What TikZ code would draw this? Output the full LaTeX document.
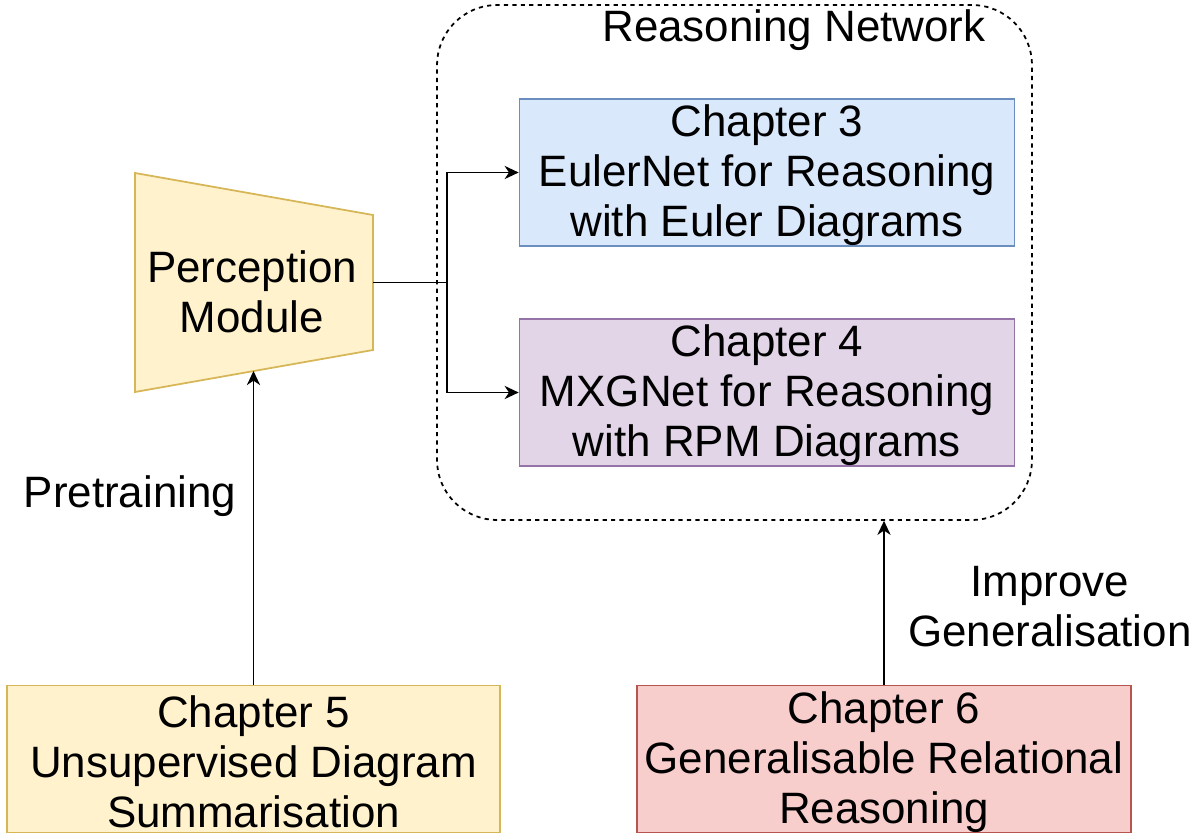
\documentclass[tikz,border=0pt]{standalone}
\usepackage{fontspec}
\setmainfont{Liberation Sans}
\usetikzlibrary{arrows.meta}
\definecolor{bluefill}{HTML}{DAE8FC}
\definecolor{blueline}{HTML}{6C8EBF}
\definecolor{purplefill}{HTML}{E1D5E7}
\definecolor{purpleline}{HTML}{9673A6}
\definecolor{yellowfill}{HTML}{FFF2CC}
\definecolor{yellowline}{HTML}{D6B656}
\definecolor{redfill}{HTML}{F8CECC}
\definecolor{redline}{HTML}{B85450}
\begin{document}
\begin{tikzpicture}[x=0.02cm,y=-0.02cm,
  every node/.style={font=\fontsize{25}{28.45}\selectfont, align=center, inner sep=0pt},
  chapbox/.style={draw, line width=1pt, minimum width=9.9cm, minimum height=2.94cm},
  arr/.style={line width=1.1pt, -{Stealth[length=8pt,width=7.5pt,inset=2.5pt]}},
  link/.style={line width=1.1pt}]
\useasboundingbox (0,0) rectangle (1197,834);

% reasoning network container
\node[draw, dash pattern=on 2.4pt off 2.4pt, line width=1pt, rounded corners=1.2cm,
  minimum width=11.9cm, minimum height=10.3cm] (net) at (734.5,262.5) {};
\node (nettitle) at (794,30) {Reasoning Network};

% chapter boxes
\node[chapbox, fill=bluefill, draw=blueline] (ch3) at (767,172.5) {};
\node[chapbox, fill=purplefill, draw=purpleline] (ch4) at (767,392.5) {};
\node[chapbox, fill=yellowfill, draw=yellowline, minimum width=9.86cm] (ch5) at (253.5,759) {};
\node[chapbox, fill=redfill, draw=redline, minimum width=9.88cm] (ch6) at (884,759) {};
\node (ch3t) at ([yshift=-0.06cm]ch3.center) {Chapter 3\\EulerNet for Reasoning\\with Euler Diagrams};
\node (ch4t) at ([yshift=-0.06cm]ch4.center) {Chapter 4\\MXGNet for Reasoning\\with RPM Diagrams};
\node (ch5t) at ([yshift=-0.06cm]ch5.center) {Chapter 5\\Unsupervised Diagram\\Summarisation};
\node (ch6t) at ([yshift=-0.06cm]ch6.center) {Chapter 6\\Generalisable Relational\\Reasoning};

% perception module (trapezoid)
\draw[fill=yellowfill, draw=yellowline, line width=1pt]
  (135,173) -- (373,215) -- (373,350) -- (135,392) -- cycle;
\node (pm) at (252,292) {Perception\\Module};
\coordinate (pmout) at (373,282.5);
\coordinate (pmin) at (253.5,371);
\coordinate (split) at (447,282.5);

% connectors
\draw[link] (pmout) -- (split);
\draw[arr] (split) |- (ch3.west);
\draw[arr] (split) |- (ch4.west);
\draw[arr] (ch5.north) -- (pmin);
\draw[arr] (ch6.north) -- (ch6.north |- net.south);

% labels
\node (pre) at (130,496) {Pretraining};
\node (gen) at (1050,607) {Improve\\Generalisation};
\end{tikzpicture}
\end{document}
